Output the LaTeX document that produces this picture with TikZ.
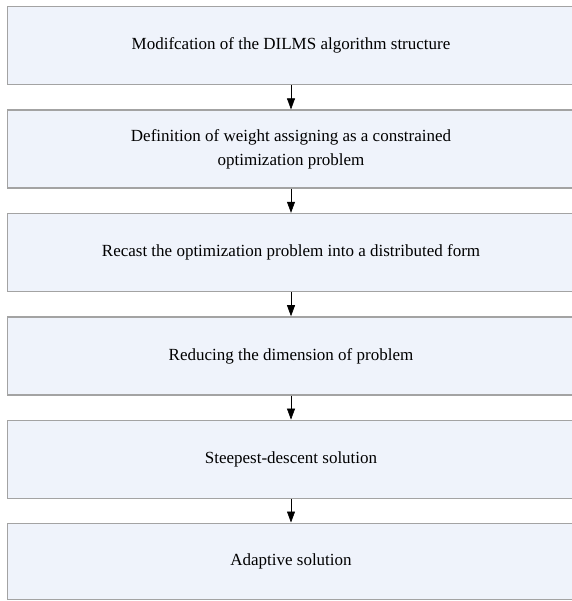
\documentclass[tikz,border=0pt]{standalone}
\usepackage{fontspec}
\setmainfont{Liberation Serif}
\usetikzlibrary{arrows.meta}
\definecolor{boxfill}{HTML}{EFF3FB}
\definecolor{boxline}{HTML}{A3A3A3}
\begin{document}
\begin{tikzpicture}[x=1pt,y=1pt,
  stepbox/.style={draw=boxline,line width=1.3pt,fill=boxfill,minimum width=567pt,minimum height=78pt,
    inner sep=0pt,align=center,font=\fontsize{17}{24}\selectfont,anchor=north},
  flow/.style={draw=black,line width=0.6pt,-{Triangle[length=11pt,width=8pt]}}]
\useasboundingbox (0,0) rectangle (571,-601);
\fill[white] (0,0) rectangle (571,-601);
\node[stepbox] (b1) at (291,-6) {Modifcation of the DILMS algorithm structure};
\node[stepbox] (b2) at (291,-109.4) {Definition of weight assigning as a constrained\\optimization problem};
\node[stepbox] (b3) at (291,-212.8) {Recast the optimization problem into a distributed form};
\node[stepbox] (b4) at (291,-316.2) {Reducing the dimension of problem};
\node[stepbox] (b5) at (291,-419.6) {Steepest-descent solution};
\node[stepbox,minimum height=76.5pt] (b6) at (291,-522.5) {Adaptive solution};
\foreach \a/\b in {b1/b2,b2/b3,b3/b4,b4/b5,b5/b6}
  \draw[flow] (\a.south) -- (\b.north);
\end{tikzpicture}
\end{document}
